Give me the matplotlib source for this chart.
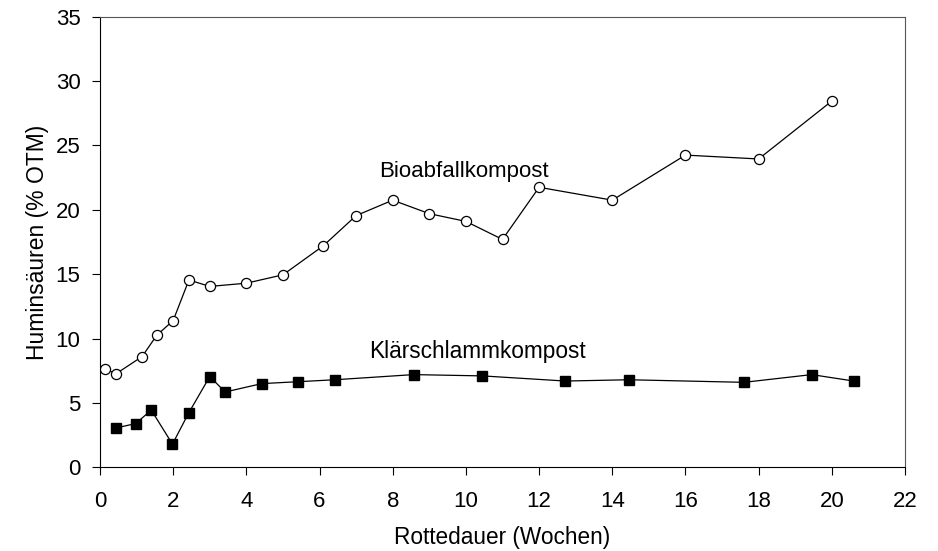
import numpy as np
import matplotlib
matplotlib.use('Agg')
import matplotlib.pyplot as plt

# Daten
bio_wochen = [0.15, 0.43, 1.15, 1.55, 2.0, 2.43, 3.0, 4.0, 5.0, 6.1, 7.0,
              8.0, 9.0, 10.0, 11.0, 12.0, 14.0, 16.0, 18.0, 20.0]
bio_hs = [7.65, 7.25, 8.6, 10.25, 11.4, 14.55, 14.05, 14.3, 14.95, 17.2, 19.55,
          20.75, 19.7, 19.1, 17.7, 21.75, 20.75, 24.25, 23.95, 28.45]

ks_wochen = [0.43, 0.98, 1.4, 1.98, 2.42, 3.0, 3.42, 4.42, 5.42, 6.42,
             8.57, 10.45, 12.72, 14.45, 17.6, 19.45, 20.6]
ks_hs = [3.05, 3.4, 4.45, 1.8, 4.2, 7.05, 5.85, 6.5, 6.65, 6.8,
         7.2, 7.1, 6.7, 6.8, 6.6, 7.2, 6.7]

xticks = np.arange(0, 23, 2)
yticks = np.arange(0, 36, 5)

plt.rcParams['font.family'] = ['Liberation Sans', 'DejaVu Sans']

fig = plt.figure(figsize=(9.38, 5.51), dpi=100)
ax = fig.add_axes([100 / 938, 1 - 467.3 / 551, 805 / 938, (467.3 - 16.7) / 551])

ax.plot(bio_wochen, bio_hs, color='black', lw=0.9, marker='o', ms=7.3,
        mfc='white', mec='black', mew=0.9)
ax.plot(ks_wochen, ks_hs, color='black', lw=0.9, marker='s', ms=6.8,
        mfc='black', mec='black')

ax.text(9.94, 22.58, 'Bioabfallkompost', ha='center', va='baseline', fontsize=16)
ax.text(10.32, 8.47, 'Klärschlammkompost', ha='center', va='baseline', fontsize=16.3)

ax.set_xlim(0, 22)
ax.set_ylim(0, 35)
ax.set_xticks(xticks)
ax.set_yticks(yticks)
ax.tick_params(direction='out', length=6, width=0.8, labelsize=16)
ax.tick_params(axis='x', pad=11)
ax.tick_params(axis='y', pad=8)
ax.set_xlabel('Rottedauer (Wochen)', fontsize=16.3, labelpad=10)
ax.set_ylabel('Huminsäuren (% OTM)', fontsize=16.5, labelpad=5)
for s in ['top', 'right']:
    ax.spines[s].set_color('#555555')

fig.savefig('out.png', dpi=100)
